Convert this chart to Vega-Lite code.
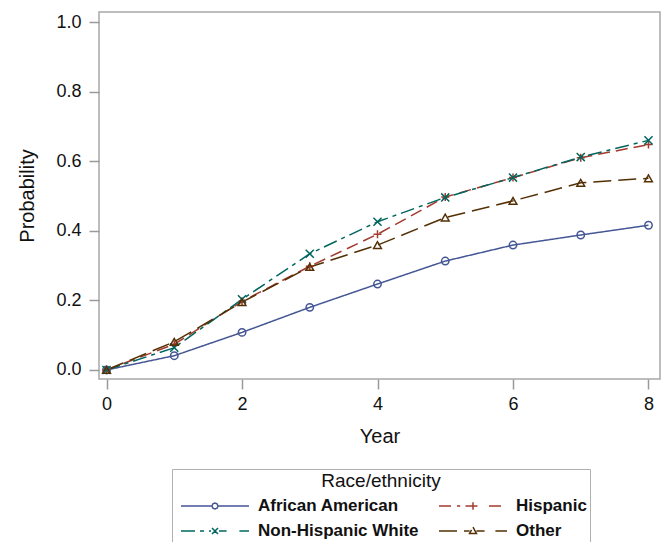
{
  "$schema": "https://vega.github.io/schema/vega-lite/v6.json",
  "autosize": {"type": "none"},
  "width": 561,
  "height": 367,
  "padding": {"left": 99, "top": 12, "right": 9, "bottom": 163},
  "background": "white",
  "config": {
    "font": "Liberation Sans",
    "view": {"stroke": "#a8a8a8", "strokeWidth": 1.5},
    "axis": {"grid": false, "domain": false, "tickColor": "#9a9a9a", "tickSize": 10, "tickWidth": 1.5, "labelFontSize": 18, "labelColor": "#111", "titleFontSize": 20, "titleFontWeight": "normal", "titleColor": "#111"}
  },
  "data": {"values": [
    {"year": 0, "p": 0.0, "group": "African American"},
    {"year": 1, "p": 0.041, "group": "African American"},
    {"year": 2, "p": 0.108, "group": "African American"},
    {"year": 3, "p": 0.18, "group": "African American"},
    {"year": 4, "p": 0.247, "group": "African American"},
    {"year": 5, "p": 0.313, "group": "African American"},
    {"year": 6, "p": 0.359, "group": "African American"},
    {"year": 7, "p": 0.388, "group": "African American"},
    {"year": 8, "p": 0.416, "group": "African American"},
    {"year": 0, "p": 0.0, "group": "Hispanic"},
    {"year": 1, "p": 0.074, "group": "Hispanic"},
    {"year": 2, "p": 0.197, "group": "Hispanic"},
    {"year": 3, "p": 0.298, "group": "Hispanic"},
    {"year": 4, "p": 0.39, "group": "Hispanic"},
    {"year": 5, "p": 0.497, "group": "Hispanic"},
    {"year": 6, "p": 0.553, "group": "Hispanic"},
    {"year": 7, "p": 0.61, "group": "Hispanic"},
    {"year": 8, "p": 0.648, "group": "Hispanic"},
    {"year": 0, "p": 0.0, "group": "Non-Hispanic White"},
    {"year": 1, "p": 0.064, "group": "Non-Hispanic White"},
    {"year": 2, "p": 0.203, "group": "Non-Hispanic White"},
    {"year": 3, "p": 0.334, "group": "Non-Hispanic White"},
    {"year": 4, "p": 0.426, "group": "Non-Hispanic White"},
    {"year": 5, "p": 0.496, "group": "Non-Hispanic White"},
    {"year": 6, "p": 0.553, "group": "Non-Hispanic White"},
    {"year": 7, "p": 0.612, "group": "Non-Hispanic White"},
    {"year": 8, "p": 0.66, "group": "Non-Hispanic White"},
    {"year": 0, "p": 0.0, "group": "Other"},
    {"year": 1, "p": 0.081, "group": "Other"},
    {"year": 2, "p": 0.195, "group": "Other"},
    {"year": 3, "p": 0.296, "group": "Other"},
    {"year": 4, "p": 0.359, "group": "Other"},
    {"year": 5, "p": 0.438, "group": "Other"},
    {"year": 6, "p": 0.486, "group": "Other"},
    {"year": 7, "p": 0.538, "group": "Other"},
    {"year": 8, "p": 0.551, "group": "Other"}
  ]},
  "encoding": {
    "x": {"field": "year", "type": "quantitative", "title": "Year",
      "scale": {"domain": [-0.111, 8.17], "nice": false, "zero": false},
      "axis": {"values": [0, 2, 4, 6, 8], "format": "d", "labelPadding": 6, "titlePadding": 13}},
    "y": {"field": "p", "type": "quantitative", "title": "Probability",
      "scale": {"domain": [-0.026, 1.029], "nice": false, "zero": false},
      "axis": {"values": [0, 0.2, 0.4, 0.6, 0.8, 1.0], "format": ".1f", "labelPadding": 8, "titlePadding": 18}},
    "color": {"field": "group", "type": "nominal", "title": "Race/ethnicity",
      "scale": {"domain": ["African American", "Hispanic", "Non-Hispanic White", "Other"], "range": ["#445694", "#A23A2E", "#01665E", "#543005"]},
      "legend": {
        "orient": "none", "legendX": 73, "legendY": 457, "direction": "horizontal", "columns": 2,
        "strokeColor": "#b0b0b0", "padding": 3, "symbolOffset": 31,
        "titleAnchor": "middle", "titleFontSize": 19, "titleFontWeight": "normal", "titleColor": "#111", "titlePadding": 6,
        "labelFontSize": 17, "labelFontWeight": "bold", "labelColor": "#111", "labelOffset": 34, "labelLimit": 400,
        "columnPadding": 14, "rowPadding": 8, "symbolSize": 256, "symbolStrokeWidth": 1.5,
        "encode": {"symbols": {"update": {
          "shape": {"signal": "datum.value === 'African American' ? 'M-4.25,0L-0.375,0M0.375,0L4.25,0M0.375,0L0.265,0.265L0,0.375L-0.265,0.265L-0.375,0L-0.265,-0.265L0,-0.375L0.265,-0.265Z' : datum.value === 'Hispanic' ? 'M-4.25,0L-1.6,0M-0.94,0L0.94,0M2,0L4.25,0M0,-0.47L0,0.47' : datum.value === 'Non-Hispanic White' ? 'M-4.25,0L-0.5,0M0.5,0L1.45,0M3.05,0L4.25,0M-0.375,-0.375L0.375,0.375M-0.375,0.375L0.375,-0.375' : 'M-4.25,0L-0.43,0M0.43,0L1.45,0M2.8,0L4.25,0M0,-0.47L0.43,0.3L-0.43,0.3Z'"},
          "strokeDash": {"value": [1, 0]},
          "fill": {"value": "transparent"},
          "strokeWidth": {"value": 1.5}
        }}}
      }}
  },
  "layer": [
    {
      "mark": {"type": "line", "strokeWidth": 1.5},
      "encoding": {
        "strokeDash": {"field": "group", "type": "nominal", "legend": null,
          "scale": {"domain": ["African American", "Hispanic", "Non-Hispanic White", "Other"], "range": [[1, 0], [12, 6], [14, 5, 4, 5], [18, 7]]}}
      }
    },
    {
      "transform": [{"filter": "datum.group === 'African American'"}],
      "mark": {"type": "point", "filled": false, "strokeWidth": 1.5, "opacity": 1, "shape": "circle", "size": 55}
    },
    {
      "transform": [{"filter": "datum.group === 'Hispanic'"}],
      "mark": {"type": "point", "filled": false, "strokeWidth": 1.5, "opacity": 1, "shape": "M-1,0L1,0M0,-1L0,1", "size": 64}
    },
    {
      "transform": [{"filter": "datum.group === 'Non-Hispanic White'"}],
      "mark": {"type": "point", "filled": false, "strokeWidth": 1.5, "opacity": 1, "shape": "M-0.9,-0.9L0.9,0.9M-0.9,0.9L0.9,-0.9", "size": 81}
    },
    {
      "transform": [{"filter": "datum.group === 'Other'"}],
      "mark": {"type": "point", "filled": false, "strokeWidth": 1.5, "opacity": 1, "shape": "triangle-up", "size": 60}
    }
  ]
}
